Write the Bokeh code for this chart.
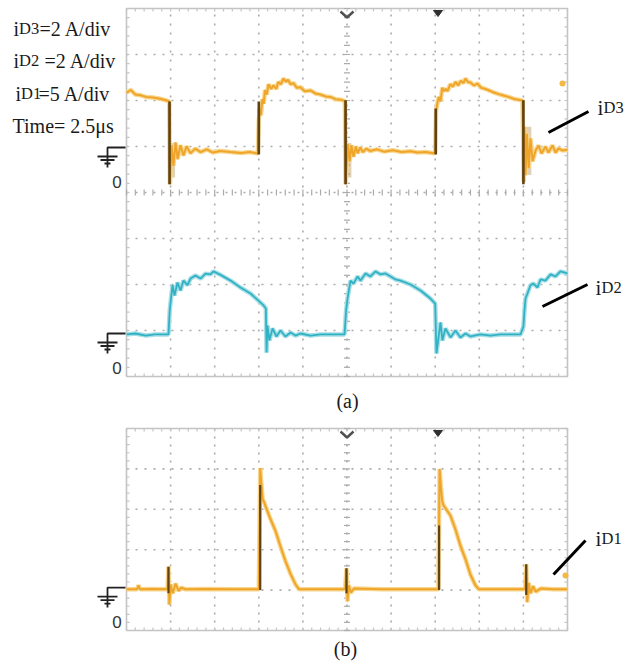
import numpy as np
from bokeh.plotting import figure
from bokeh.models import Range1d
from bokeh.embed import file_html
from bokeh.resources import INLINE
from bokeh.core.properties import value

# ---------------- data (time in microseconds, current in A) ----------------
TIME_DIV = 2.5      # us/div
SCALE_D3 = 2.0      # A/div
SCALE_D2 = 2.0      # A/div
SCALE_D1 = 5.0      # A/div

t3 = [0, 0.25, 0.5, 0.8, 1.1, 1.5, 1.9, 2.3, 2.42, 2.46,
      2.55, 2.66, 2.78, 2.9, 3.06, 3.23, 3.4, 3.63, 3.9, 4.2,
      4.55, 4.9, 5.3, 5.9, 6.5, 7.0, 7.45, 7.5, 7.55, 7.62,
      7.7, 7.78, 7.85, 7.95, 8.05, 8.2, 8.33, 8.5, 8.6, 8.75,
      8.9, 9.05, 9.15, 9.3, 9.47, 9.65, 9.86, 10.1, 10.43, 10.7,
      11.0, 11.3, 11.56, 11.85, 12.13, 12.38, 12.42, 12.47, 12.55, 12.65,
      12.75, 12.87, 13.0, 13.1, 13.25, 13.4, 13.6, 13.8, 14.2, 14.6,
      15.1, 15.6, 16.1, 16.5, 16.95, 17.4, 17.5, 17.55, 17.62, 17.7,
      17.8, 17.9, 18.0, 18.1, 18.2, 18.35, 18.5, 18.65, 18.8, 18.95,
      19.1, 19.22, 19.35, 19.5, 19.7, 19.9, 20.1, 20.25, 20.5, 20.8,
      21.1, 21.37, 21.65, 21.94, 22.2, 22.45, 22.52, 22.56, 22.62, 22.7,
      22.8, 22.9, 23.02, 23.19, 23.36, 23.53, 23.75, 23.92, 24.15, 24.32,
      24.49, 24.72, 25.0]
i3 = [2.39, 2.5, 2.3, 2.27, 2.2, 2.17, 2.12, 2.04, 2.0, -1.6,
      0.1, -0.8, 0.22, -0.5, 0.1, -0.35, 0.05, -0.25, -0.05, -0.2,
      -0.08, -0.22, -0.15, -0.2, -0.24, -0.2, -0.26, 1.2, 1.7, 1.4,
      2.1, 1.9, 2.5, 2.3, 2.75, 2.55, 2.7, 2.55, 2.85, 2.75,
      3.0, 2.85, 2.95, 2.75, 2.8, 2.6, 2.62, 2.45, 2.48, 2.35,
      2.3, 2.22, 2.2, 2.1, 2.08, 2.02, -1.6, -0.9, 0.15, -0.6,
      0.1, -0.4, 0.05, -0.25, 0.0, -0.2, -0.05, -0.15, -0.08, -0.18,
      -0.12, -0.2, -0.16, -0.22, -0.2, -0.25, -0.22, 1.6, 1.9, 2.2,
      2.0, 2.6, 2.45, 2.55, 2.45, 2.75, 2.65, 2.85, 2.7, 2.9,
      2.8, 3.0, 2.85, 2.83, 2.7, 2.78, 2.6, 2.57, 2.5, 2.4,
      2.32, 2.26, 2.2, 2.12, 2.08, 2.04, -1.5, 0.9, -1.2, 0.6,
      -0.9, 0.4, -0.6, -0.13, 0.09, -0.26, 0.04, -0.22, 0.09, -0.22,
      -0.04, -0.13, -0.1]
# dark persistence strokes of iD3 (switching edges) and ringing bands
e3_t = [2.44, 7.5, 12.42, 17.53, 22.5]
e3_lo = [-1.6, -0.3, -1.6, -0.3, -1.6]
e3_hi = [2.0, 2.0, 2.05, 1.7, 2.05]
r3_t0 = [2.48, 12.46, 22.52]
r3_t1 = [2.75, 12.75, 22.95]
r3_lo = [-1.3, -1.3, -1.2]
r3_hi = [0.2, 0.2, 0.9]

t2 = [0, 0.5, 1.1, 1.6, 2.2, 2.38, 2.45, 2.52, 2.61, 2.72,
      2.89, 3.06, 3.23, 3.46, 3.63, 3.91, 4.2, 4.48, 4.76, 4.93,
      5.33, 5.9, 6.46, 7.03, 7.48, 7.77, 7.9, 7.94, 7.99, 8.1,
      8.28, 8.5, 8.73, 9.01, 9.3, 9.58, 9.86, 10.43, 11.0, 11.85,
      12.36, 12.45, 12.53, 12.59, 12.7, 12.87, 13.1, 13.27, 13.55, 13.83,
      14.12, 14.4, 14.68, 14.97, 15.25, 15.53, 16.1, 16.67, 17.23, 17.5,
      17.57, 17.8, 17.91, 18.08, 18.37, 18.65, 18.93, 19.22, 19.5, 20.07,
      20.63, 21.2, 21.77, 22.34, 22.5, 22.56, 22.62, 22.73, 22.9, 23.07,
      23.3, 23.47, 23.75, 24.04, 24.32, 24.6, 25.0]
i2 = [-0.04, 0, -0.09, -0.04, -0.04, -0.04, 1.0, 1.5, 2.1, 1.65,
      2.22, 1.87, 2.3, 2.1, 2.39, 2.52, 2.39, 2.6, 2.57, 2.7,
      2.55, 2.3, 2.0, 1.74, 1.43, 1.22, 1.09, -0.83, 0.35, -0.3,
      0.22, -0.13, 0.13, -0.13, 0.04, -0.09, 0, -0.09, -0.04, -0.04,
      -0.04, 1.0, 1.52, 1.8, 2.3, 2.17, 2.48, 2.3, 2.61, 2.48,
      2.7, 2.57, 2.61, 2.48, 2.35, 2.3, 2.13, 1.87, 1.52, 1.3,
      -0.87, 0.48, -0.3, 0.22, -0.17, 0.13, -0.17, 0, -0.13, -0.04,
      -0.09, -0.04, -0.04, -0.04, 0.3, 1.0, 1.52, 1.74, 2.1, 2.17,
      2.0, 2.35, 2.3, 2.57, 2.48, 2.7, 2.61]

t1 = [0, 0.6, 0.68, 0.76, 1.5, 2.25, 2.33, 2.38, 2.43, 2.5,
      2.62, 2.78, 2.95, 3.1, 3.34, 4.5, 6.0, 7.5, 7.58, 7.65,
      7.72, 7.8, 7.88, 8.16, 8.45, 8.73, 9.01, 9.3, 9.58, 9.78,
      11.0, 12.3, 12.4, 12.47, 12.53, 12.6, 12.72, 12.9, 14.5, 16.5,
      17.68, 17.75, 17.82, 17.9, 17.97, 18.37, 18.65, 18.93, 19.22, 19.5,
      19.78, 19.98, 21.0, 22.5, 22.6, 22.66, 22.72, 22.8, 22.9, 23.05,
      23.19, 23.5, 24.2, 25.0]
i1 = [0.1, 0.1, 0.6, 0.1, 0.15, 0.1, 0.2, 2.9, -1.8, 0.7,
      -0.4, 0.8, -0.1, 0.3, 0.1, 0.15, 0.1, 0.1, 15.1, 13.0,
      11.2, 10.9, 10.4, 8.8, 7.3, 5.4, 3.6, 2.0, 0.7, 0.1,
      0.1, 0.1, 0.2, 2.7, -1.4, 0.6, -0.3, 0.2, 0.1, 0.1,
      0.1, 15.0, 12.8, 11.0, 10.5, 9.2, 7.5, 5.5, 3.8, 1.9,
      0.6, 0.1, 0.1, 0.1, 0.2, 3.2, -1.5, 0.9, -0.4, 0.5,
      -0.2, 0.2, 0.1, 0.1]
e1_t = [2.38, 7.58, 12.47, 17.72, 22.66]
e1_lo = [-0.4, 0.0, -0.4, 0.0, -0.6]
e1_hi = [2.9, 13.0, 2.7, 8.0, 3.2]

# ---------------- layout (page pixels) ----------------
W, H = 633, 666
PX0, PY0 = 0, 0
A_LEFT = 126.0
PX_PER_US = 44.1 / TIME_DIV
A_MID_Y = 192.0
A_DIV = 46.0
D3_ZERO = 147.0
D2_ZERO = 333.0
B_ZERO = 589.6
B_DIV = 40.4
SCREEN_T = 10 * TIME_DIV

ORANGE = "#EFA52A"
ORANGE_HALO = "#F8D68E"
BROWN = "#5E4316"
CYAN = "#31B2C4"
CYAN_HALO = "#A8DEE6"
GRID = "#ABABAB"
BORDER = "#C4C4C4"
SERIF = value("Liberation Serif")


def yrange(zero, px_per_unit):
    return Range1d(start=(zero - (PY0 + H)) / px_per_unit, end=(zero - PY0) / px_per_unit)


p = figure(width=W, height=H, title=None, output_backend="svg", toolbar_location=None,
           x_axis_type=None, y_axis_type=None, min_border=0,
           x_range=Range1d((PX0 - A_LEFT) / PX_PER_US, (PX0 + W - A_LEFT) / PX_PER_US),
           y_range=yrange(A_MID_Y, A_DIV))
p.outline_line_color = None
p.background_fill_color = "white"
p.border_fill_color = "white"
p.extra_x_ranges = {"px": Range1d(PX0, PX0 + W)}
p.extra_y_ranges = {"d3": yrange(D3_ZERO, A_DIV / SCALE_D3),
                    "d2": yrange(D2_ZERO, A_DIV / SCALE_D2),
                    "b": yrange(B_ZERO, B_DIV / SCALE_D1),
                    "py": Range1d(PY0 + H, PY0)}


def graticule(yname, ylo, yhi, ystep, px_per_y, centre_h=None):
    hx = int(round(PX_PER_US * TIME_DIV / 5.0))
    vy = int(round(ystep * px_per_y / 5.0))
    tt = [TIME_DIV * k for k in range(1, 10)]
    p.multi_line(xs=[[t, t] for t in tt], ys=[[ylo, yhi]] * len(tt), line_color=GRID,
                 line_width=1.6, line_dash=f"2 {vy - 2}", y_range_name=yname)
    yy = list(np.arange(ylo + ystep, yhi - ystep / 2, ystep))
    p.multi_line(xs=[[0, SCREEN_T]] * len(yy), ys=[[y, y] for y in yy], line_color=GRID,
                 line_width=1.6, line_dash=f"2 {hx - 2}", y_range_name=yname)
    p.line([0, SCREEN_T, SCREEN_T, 0, 0], [ylo, ylo, yhi, yhi, ylo], line_color=BORDER,
           line_width=1.6, y_range_name=yname)
    dt = 3.0 / PX_PER_US
    dy = 3.0 / px_per_y
    ys = np.arange(ylo, yhi + 1e-9, ystep / 5.0)
    ts = np.arange(0, SCREEN_T + 1e-9, TIME_DIV / 5.0)
    c = SCREEN_T / 2
    p.segment(x0=[c - dt] * len(ys), x1=[c + dt] * len(ys), y0=ys, y1=ys,
              line_color=GRID, line_width=1.2, y_range_name=yname)
    p.segment(x0=[0] * len(ys), x1=[dt] * len(ys), y0=ys, y1=ys,
              line_color=BORDER, line_width=1.2, y_range_name=yname)
    p.segment(x0=[SCREEN_T] * len(ys), x1=[SCREEN_T - dt] * len(ys), y0=ys, y1=ys,
              line_color=BORDER, line_width=1.2, y_range_name=yname)
    p.segment(x0=ts, x1=ts, y0=[yhi] * len(ts), y1=[yhi - dy] * len(ts),
              line_color=BORDER, line_width=1.2, y_range_name=yname)
    p.segment(x0=ts, x1=ts, y0=[ylo] * len(ts), y1=[ylo + dy] * len(ts),
              line_color=BORDER, line_width=1.2, y_range_name=yname)
    if centre_h is not None:
        p.segment(x0=ts, x1=ts, y0=[centre_h - dy] * len(ts), y1=[centre_h + dy] * len(ts),
                  line_color=GRID, line_width=1.2, y_range_name=yname)


graticule("default", -4, 4, 1, A_DIV, centre_h=0)
graticule("b", -SCALE_D1, 4 * SCALE_D1, SCALE_D1, B_DIV / SCALE_D1)

# ---------------- traces ----------------
p.quad(left=r3_t0, right=r3_t1, bottom=r3_lo, top=r3_hi, fill_color="#B79A62",
       fill_alpha=0.45, line_color=None, y_range_name="d3")
p.line(t3, i3, line_color=ORANGE_HALO, line_width=4.5, y_range_name="d3")
p.line(t3, i3, line_color=ORANGE, line_width=2.0, y_range_name="d3")
p.segment(x0=e3_t, x1=e3_t, y0=e3_lo, y1=e3_hi, line_color=BROWN, line_width=2.6,
          y_range_name="d3")

p.line(t2, i2, line_color=CYAN_HALO, line_width=4.5, y_range_name="d2")
p.line(t2, i2, line_color=CYAN, line_width=1.8, y_range_name="d2")

p.line(t1, i1, line_color=ORANGE_HALO, line_width=4.5, y_range_name="b")
p.line(t1, i1, line_color=ORANGE, line_width=2.0, y_range_name="b")
p.segment(x0=e1_t, x1=e1_t, y0=e1_lo, y1=e1_hi, line_color=BROWN, line_width=2.2,
          y_range_name="b")

# ---------------- scope markers (page pixels) ----------------
for top in (A_MID_Y - 4 * A_DIV, B_ZERO - 4 * B_DIV):
    p.line([340, 346.5, 353], [top + 3, top + 9, top + 3], line_color="#505050",
           line_width=2.4, x_range_name="px", y_range_name="py")
    p.patch([433, 442, 437.5], [top + 2, top + 2, top + 8], fill_color="#303030",
            line_color="#303030", x_range_name="px", y_range_name="py")

p.scatter([562, 565], [83, 575], size=6, fill_color="#F3B845", line_color=None,
          x_range_name="px", y_range_name="py")

# ground symbols
for y0 in (D3_ZERO, D2_ZERO, B_ZERO - 2.5):
    p.multi_line(xs=[[125, 107, 107], [97, 117], [100, 114], [104, 110]],
                 ys=[[y0, y0, y0 + 20], [y0 + 9, y0 + 9], [y0 + 12.5, y0 + 12.5], [y0 + 16, y0 + 16]],
                 line_color="#222222", line_width=1.8, x_range_name="px", y_range_name="py")
    p.text(x=[116.5], y=[y0 + 34], text=["0"], text_font=value("Liberation Sans"),
           text_font_size=value("17px"), text_color="#333333", text_align="center",
           text_baseline="middle", x_range_name="px", y_range_name="py")


def txt(x, y, s, size, align="left", baseline="alphabetic"):
    p.text(x=[x], y=[y], text=[s], text_font=SERIF, text_font_size=value(size),
           text_color="#1A1A1A", text_align=align, text_baseline=baseline,
           x_range_name="px", y_range_name="py")


txt(13, 28, "i", "20px"); txt(18.6, 28, "D3", "16.5px"); txt(39, 28, "=2 A/div", "20px")
txt(13, 60, "i", "20px"); txt(18.6, 60, "D2", "16.5px"); txt(44, 60, "=2 A/div", "20px")
txt(15, 93, "i", "20px"); txt(20.6, 93, "D1", "16.5px"); txt(38, 93, "=5 A/div", "20px")
txt(12, 125, "Time= 2.5\u03bcs", "20px")

txt(597, 107, "i", "21px"); txt(603, 107, "D3", "16.5px")
txt(595, 287, "i", "21px"); txt(601, 287, "D2", "16.5px")
txt(595, 538, "i", "21px"); txt(601, 538, "D1", "16.5px")

p.multi_line(xs=[[548, 588], [542, 587], [553, 585]], ys=[[132, 111], [306, 284], [574, 540]],
             line_color="black", line_width=3, x_range_name="px", y_range_name="py")

txt(347, 400, "(a)", "20px", align="center", baseline="middle")
txt(345, 648, "(b)", "20px", align="center", baseline="middle")

open("out.html", "w").write(file_html(p, INLINE))
